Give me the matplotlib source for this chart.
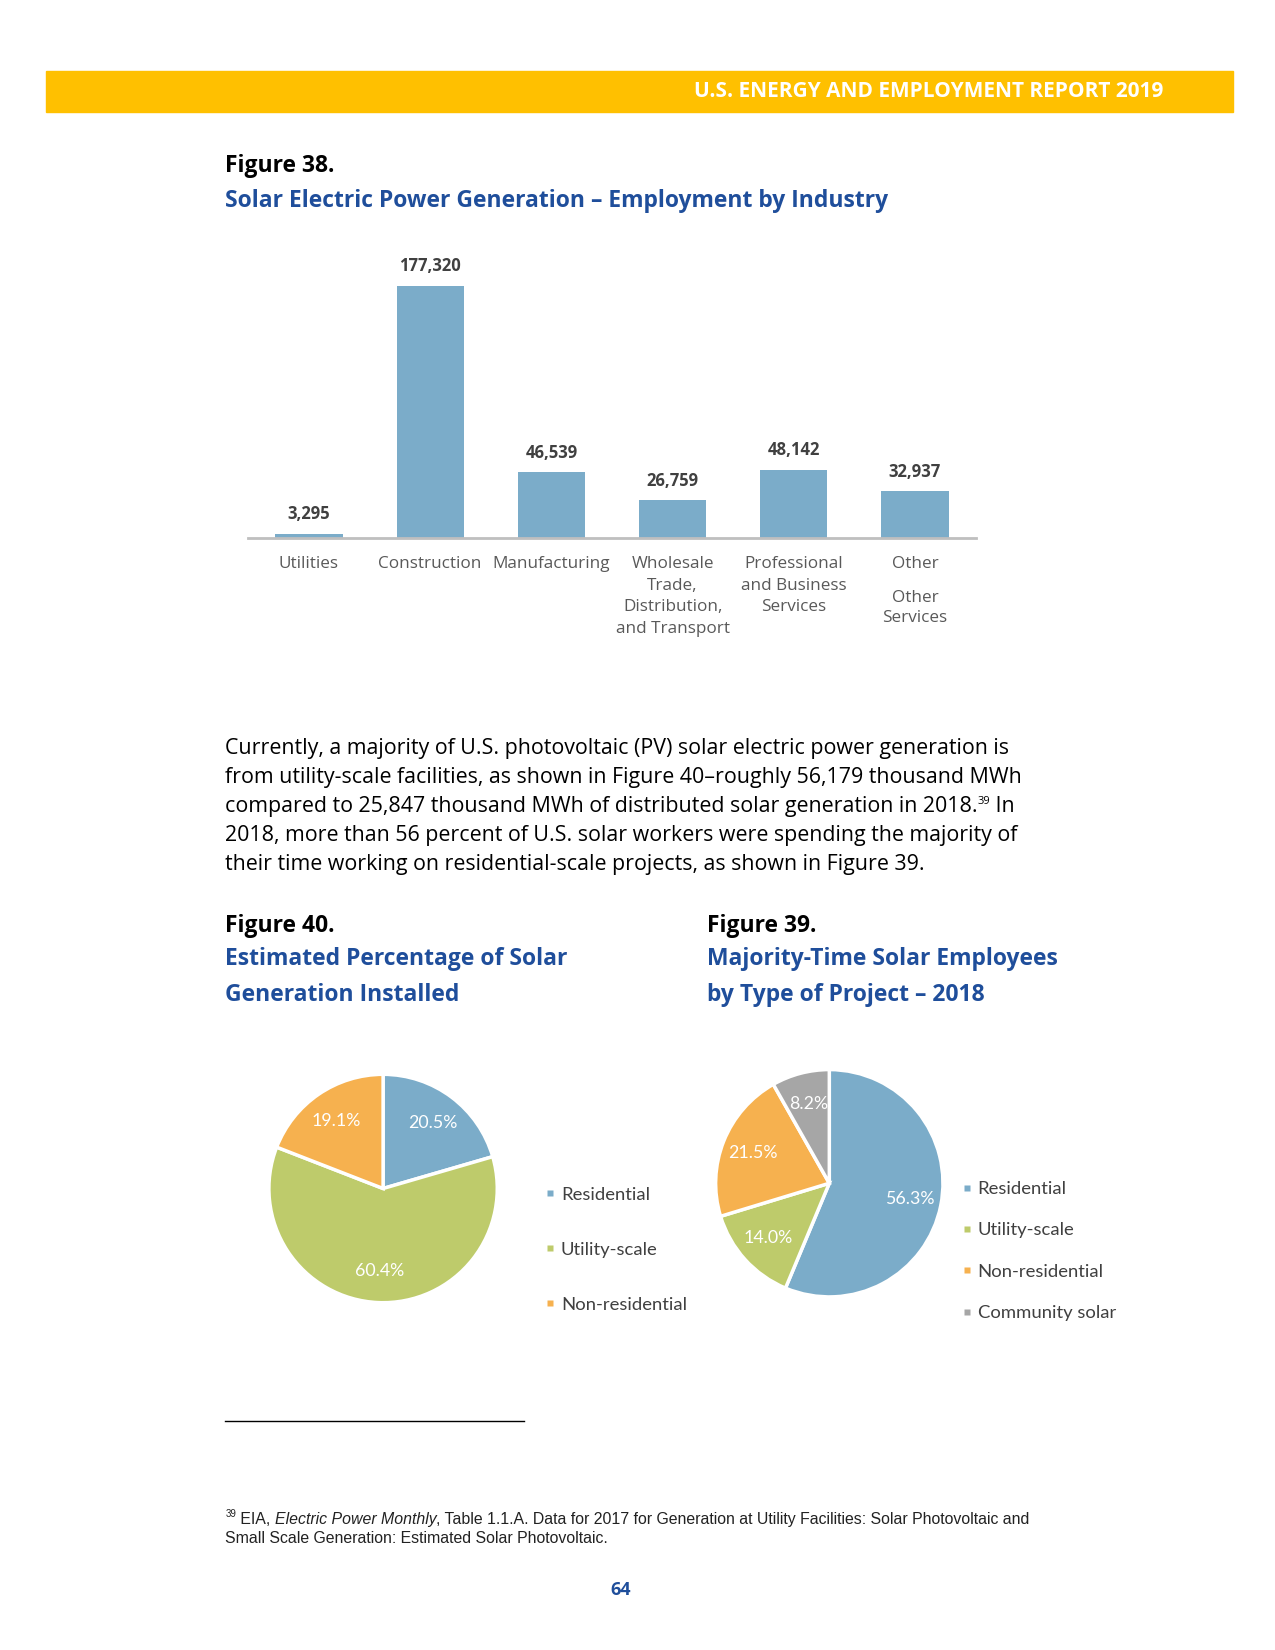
import matplotlib
matplotlib.use("Agg")
import matplotlib.pyplot as plt
from matplotlib.lines import Line2D

# ---- data ----
industries = ["Utilities", "Construction", "Manufacturing",
              "Wholesale\nTrade,\nDistribution,\nand Transport",
              "Professional\nand Business\nServices", "Other"]
employment = [3295, 177320, 46539, 26759, 48142, 32937]

gen_labels = ["Residential", "Utility-scale", "Non-residential"]
gen_share = [20.5, 60.4, 19.1]

proj_labels = ["Residential", "Utility-scale", "Non-residential", "Community solar"]
proj_share = [56.3, 14.0, 21.5, 8.2]

paragraph = [
    "Currently, a majority of U.S. photovoltaic (PV) solar electric power generation is",
    "from utility-scale facilities, as shown in Figure 40\u2013roughly 56,179 thousand MWh",
    "compared to 25,847 thousand MWh of distributed solar generation in 2018.",
    "2018, more than 56 percent of U.S. solar workers were spending the majority of",
    "their time working on residential-scale projects, as shown in Figure 39.",
]

# ---- style ----
YELLOW = "#FFC000"
TITLE_BLUE = "#1F4E9B"
BAR_BLUE = "#7BACC9"
PIE_COLORS = {"Residential": "#7BACC9", "Utility-scale": "#BECB6B",
              "Non-residential": "#F6B14F", "Community solar": "#A6A6A6"}
TEXT_GRAY = "#595959"
DARK = "#404040"
OPEN = "Open Sans"
PIEFONT = "Lato"

W, H = 1211.5, 1566.0   # layout grid the positions below were measured on


def fx(x):
    return x / W


def fy(y):
    return 1 - y / H


fig = plt.figure(figsize=(12.75, 16.5), dpi=100)
renderer = fig.canvas.get_renderer()


def runs(x, y, parts, **common):
    # place text pieces one after another on the same baseline
    for s, kw in parts:
        opts = dict(common)
        opts.update(kw)
        dy = opts.pop("dy", 0)
        t = fig.text(x, y + dy, s, va="baseline", **opts)
        bb = t.get_window_extent(renderer)
        x += bb.width / fig.bbox.width


# header band
fig.patches.append(plt.Rectangle((fx(44), fy(106)), fx(1172) - fx(44), fy(67) - fy(106),
                                 transform=fig.transFigure, color=YELLOW, zorder=0))
fig.text(fx(1105), fy(86.5), "U.S. ENERGY AND EMPLOYMENT REPORT 2019", ha="right", va="center",
         color="white", fontsize=15, fontweight="bold", family=OPEN)

# figure 38 titles
fig.text(fx(214), fy(158), "Figure 38.", fontsize=16.5, fontweight="bold", family=OPEN,
         va="center", color="black")
fig.text(fx(214), fy(191), "Solar Electric Power Generation \u2013 Employment by Industry",
         fontsize=16.5, fontweight="bold", family=OPEN, va="center", color=TITLE_BLUE)

# ---- bar chart ----
ymax = 200000
ax = fig.add_axes([fx(236), fy(511), fx(927) - fx(236), (240 * ymax / 177320) / H])
xs = range(len(industries))
ax.bar(xs, employment, width=0.555, color=BAR_BLUE)
ax.set_xlim(-0.5, 5.5)
ax.set_ylim(0, ymax)
for s in ["top", "left", "right"]:
    ax.spines[s].set_visible(False)
ax.spines["bottom"].set_color("#BFBFBF")
ax.spines["bottom"].set_linewidth(2)
ax.set_yticks([])
ax.set_xticks(list(xs))
ax.set_xticklabels(industries, fontsize=12.3, family=OPEN, color=TEXT_GRAY, linespacing=1.48)
ax.tick_params(axis="x", length=0, pad=12.5)
for x, v in zip(xs, employment):
    ax.annotate(f"{v:,}", (x, v), xytext=(0, 7.5), textcoords="offset points",
                ha="center", va="bottom", fontsize=12, fontweight="bold",
                family=OPEN, color=DARK)
ax.text(5, -0.18, "Other\nServices", transform=ax.get_xaxis_transform(), ha="center",
        va="top", fontsize=12.3, family=OPEN, color=TEXT_GRAY, linespacing=1.32)

# ---- paragraph ----
line_y = [716, 743.5, 771, 798.5, 826]
for i, (ly, line) in enumerate(zip(line_y, paragraph)):
    if i == 2:
        runs(fx(214), fy(ly), [(line, {}), ("39", {"fontsize": 8, "dy": 0.005}), (" In", {})],
             fontsize=15.4, family=OPEN, color="black")
    else:
        fig.text(fx(214), fy(ly), line, fontsize=15.4, family=OPEN, color="black", va="baseline")

# ---- pie titles ----
fig.text(fx(214), fy(879), "Figure 40.", fontsize=16.5, fontweight="bold", family=OPEN,
         va="center", color="black")
fig.text(fx(214), fy(927), "Estimated Percentage of Solar\nGeneration Installed",
         fontsize=16.5, fontweight="bold", family=OPEN, va="center", color=TITLE_BLUE,
         linespacing=1.65)
fig.text(fx(672), fy(879), "Figure 39.", fontsize=16.5, fontweight="bold", family=OPEN,
         va="center", color="black")
fig.text(fx(672), fy(927), "Majority-Time Solar Employees\nby Type of Project \u2013 2018",
         fontsize=16.5, fontweight="bold", family=OPEN, va="center", color=TITLE_BLUE,
         linespacing=1.65)


def draw_pie(cx, cy, r, labels, values, leg_x, leg_y, spacing):
    size = 2.5 * r
    pax = fig.add_axes([fx(cx - size / 2), fy(cy + size / 2), size / W, size / H])
    wedges, _, autotexts = pax.pie(
        values, colors=[PIE_COLORS[l] for l in labels], startangle=90, counterclock=False,
        autopct=lambda p: f"{p:.1f}%", pctdistance=0.72,
        wedgeprops=dict(edgecolor="white", linewidth=2.5))
    for t in autotexts:
        t.set_color("white")
        t.set_fontsize(12.8)
        t.set_family(PIEFONT)
    handles = [Line2D([], [], marker="s", linestyle="none", markersize=5,
                      markerfacecolor=PIE_COLORS[l], markeredgecolor="none") for l in labels]
    fig.legend(handles, labels, loc="upper left", bbox_to_anchor=(fx(leg_x), fy(leg_y)),
               frameon=False, handlelength=0.5, handletextpad=0.35, labelspacing=spacing,
               borderaxespad=0, borderpad=0,
               prop={"family": PIEFONT, "size": 13.3}, labelcolor=DARK)
    return autotexts


draw_pie(364, 1128, 108.5, gen_labels, gen_share, 518, 1126.5, 2.1)
draw_pie(788, 1123, 108, proj_labels, proj_share, 914, 1121, 1.37)

# ---- footnote ----
fig.add_artist(Line2D([fx(214), fx(498)], [fy(1349), fy(1349)], color="black", linewidth=1))
runs(fx(214), fy(1446), [("39", {"fontsize": 7, "dy": 0.004}),
                         (" EIA, ", {}), ("Electric Power Monthly", {"style": "italic"}),
                         (", Table 1.1.A. Data for 2017 for Generation at Utility Facilities: "
                          "Solar Photovoltaic and", {})],
     fontsize=11.4, family="Liberation Sans", color="#222222")
fig.text(fx(214), fy(1464), "Small Scale Generation: Estimated Solar Photovoltaic.",
         fontsize=11.4, family="Liberation Sans", color="#222222", va="baseline")

fig.text(fx(590), fy(1509), "64", ha="center", va="center", fontsize=13, fontweight="bold",
         family=OPEN, color=TITLE_BLUE)

fig.savefig("out.png", dpi=100)
